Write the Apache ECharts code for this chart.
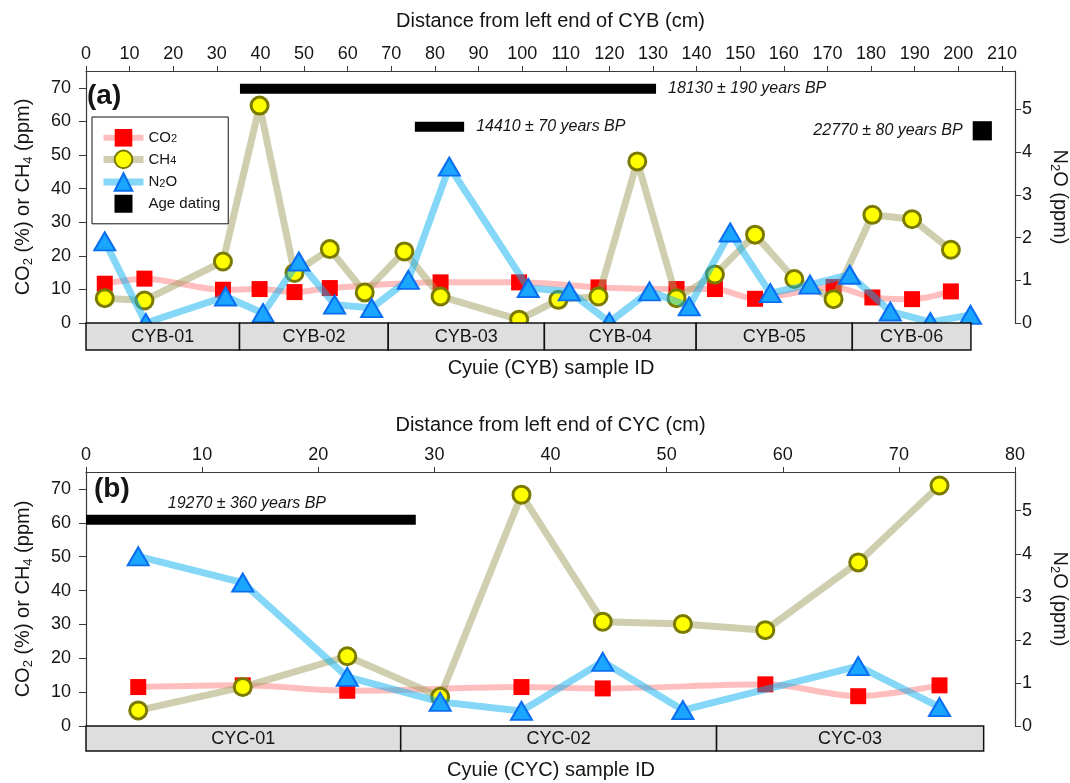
<!DOCTYPE html>
<html><head><meta charset="utf-8">
<script src="https://cdn.jsdelivr.net/npm/echarts@6/dist/echarts.min.js"></script>
<style>html,body{margin:0;padding:0;background:#fff}#c{width:1070px;height:783px}</style>
</head><body><div id="c"></div>
<script>
// ---------- Panel (a): CYB ----------
const cybDistGas = [4.3, 13.4, 31.4, 39.8, 47.8, 55.9, 63.9, 73.0, 81.3, 99.3, 108.3, 117.5, 126.4, 135.4, 144.2, 153.4, 162.4, 171.4, 180.3, 189.4, 198.3];
const cybCH4 = [7.4, 6.7, 18.3, 64.7, 14.9, 22.0, 9.1, 21.3, 7.9, 1.0, 6.9, 7.9, 48.1, 7.4, 14.4, 26.3, 13.1, 7.1, 32.2, 30.9, 21.8];
const cybDistCO2 = [4.3, 13.4, 31.4, 39.8, 47.8, 55.9, 81.3, 99.3, 117.5, 135.4, 144.2, 153.4, 171.4, 180.3, 189.4, 198.3];
const cybCO2 = [11.7, 13.2, 9.9, 10.1, 9.2, 10.4, 12.1, 12.1, 10.6, 10.1, 10.1, 7.2, 10.7, 7.6, 7.1, 9.4];
const cybDistN2O = [4.3, 13.7, 32.0, 40.6, 48.8, 57.0, 65.5, 73.9, 83.3, 101.4, 110.8, 120.0, 129.2, 138.3, 147.7, 156.9, 166.0, 175.1, 184.4, 193.6, 202.8];
const cybN2O = [1.91, 0.0, 0.62, 0.23, 1.44, 0.43, 0.35, 1.01, 3.66, 0.82, 0.74, 0.02, 0.74, 0.39, 2.12, 0.70, 0.90, 1.13, 0.27, 0.02, 0.19];
const cybSamples = ['CYB-01', 'CYB-02', 'CYB-03', 'CYB-04', 'CYB-05', 'CYB-06'];
const cybSampleBounds = [0, 35.2, 69.3, 105.1, 139.9, 175.7, 202.9];
const cybAgeStart = [35.3, 75.4, 203.3];
const cybAgeEnd = [130.7, 86.7, 207.7];
const cybAgeLevel = [69.7, 58.4, 57.2];
const cybAgeLabel = ['18130 ± 190 years BP', '14410 ± 70 years BP', '22770 ± 80 years BP'];
const cybDistTicks = [0,10,20,30,40,50,60,70,80,90,100,110,120,130,140,150,160,170,180,190,200,210];

// ---------- Panel (b): CYC ----------
const cycDistGas = [4.5, 13.5, 22.5, 30.5, 37.5, 44.5, 51.4, 58.5, 66.5, 73.5];
const cycCH4 = [4.6, 11.5, 20.6, 8.6, 68.3, 30.8, 30.1, 28.3, 48.3, 71.0];
const cycDistCO2 = [4.5, 13.5, 22.5, 37.5, 44.5, 58.5, 66.5, 73.5];
const cycCO2 = [11.5, 12.0, 10.4, 11.5, 11.1, 12.3, 8.8, 12.0];
const cycDistN2O = [4.5, 13.5, 22.5, 30.5, 37.5, 44.5, 51.4, 66.5, 73.5];
const cycN2O = [3.94, 3.33, 1.14, 0.56, 0.35, 1.49, 0.37, 1.39, 0.44];
const cycSamples = ['CYC-01', 'CYC-02', 'CYC-03'];
const cycSampleBounds = [0, 27.1, 54.3, 77.3];
const cycAgeStart = [0];
const cycAgeEnd = [28.4];
const cycAgeLevel = [60.9];
const cycAgeLabel = ['19270 ± 360 years BP'];
const cycDistTicks = [0,10,20,30,40,50,60,70,80];

const gasTicks = [0,10,20,30,40,50,60,70];
const n2oTicks = [0,1,2,3,4,5];

// ---------- styling ----------
const FONT = '"Liberation Sans", Arial, sans-serif';
const AXC = '#3a3a3a';
const TXT = '#151515';
const zip = (a, b) => a.map((v, i) => [v, b[i]]);

function topX(gridIndex, max, ticks, name, gap) {
  return {
    gridIndex, type: 'value', position: 'top', min: 0, max,
    name, nameLocation: 'middle', nameGap: gap,
    nameTextStyle: {fontSize: 20, color: TXT, fontFamily: FONT},
    axisLine: {show: true, onZero: false, lineStyle: {color: AXC, width: 1.2}},
    axisTick: {show: true, inside: false, length: 5, customValues: ticks, lineStyle: {color: AXC}},
    axisLabel: {customValues: ticks, fontSize: 18, color: TXT, fontFamily: FONT, margin: 8, hideOverlap: false},
    splitLine: {show: false}
  };
}
function hiddenX(gridIndex, max) {
  return {gridIndex, type: 'value', min: 0, max, show: false,
    axisLine: {show: false, onZero: false}, axisTick: {show: false}, axisLabel: {show: false}, splitLine: {show: false}};
}
const rich = {
  n: {fontSize: 20, color: TXT, fontFamily: FONT},
  s: {fontSize: 13, color: TXT, fontFamily: FONT, padding: [10, 0, 0, 0]}
};
function leftY(gridIndex) {
  return {
    gridIndex, type: 'value', position: 'left', min: 0, max: 75,
    name: '{n|CO}{s|2}{n| (%) or CH}{s|4}{n| (ppm)}', nameLocation: 'middle', nameGap: 51,
    nameTextStyle: {rich},
    axisLine: {show: true, onZero: false, lineStyle: {color: AXC, width: 1.2}},
    axisTick: {show: true, length: 7, customValues: gasTicks, lineStyle: {color: AXC}},
    axisLabel: {customValues: gasTicks, fontSize: 18, color: TXT, fontFamily: FONT, margin: 15},
    splitLine: {show: false}
  };
}
function rightY(gridIndex) {
  return {
    gridIndex, type: 'value', position: 'right', min: 0, max: 5.9,
    name: '{n|N}{s|2}{n|O (ppm)}', nameLocation: 'middle', nameGap: 33, nameRotate: -90,
    nameTextStyle: {rich},
    axisLine: {show: true, onZero: false, lineStyle: {color: AXC, width: 1.2}},
    axisTick: {show: true, length: 6, customValues: n2oTicks, lineStyle: {color: AXC}},
    axisLabel: {customValues: n2oTicks, fontSize: 18, color: TXT, fontFamily: FONT, margin: 7},
    splitLine: {show: false}
  };
}
function hiddenY(gridIndex) {
  return {gridIndex, type: 'value', min: 0, max: 1, show: false,
    axisLine: {show: false, onZero: false}, axisTick: {show: false}, axisLabel: {show: false}, splitLine: {show: false}};
}

function co2Series(x, y, dist, vals) {
  return {
    name: 'CO2', type: 'line', xAxisIndex: x, yAxisIndex: y, data: zip(dist, vals),
    smooth: 0.3, symbol: 'rect', symbolSize: 16, z: 2,
    itemStyle: {color: '#ff0000'},
    lineStyle: {color: 'rgba(255,110,110,0.45)', width: 6}
  };
}
function ch4Series(x, y, dist, vals) {
  return {
    name: 'CH4', type: 'line', xAxisIndex: x, yAxisIndex: y, data: zip(dist, vals),
    symbol: 'circle', symbolSize: 17, z: 3,
    itemStyle: {color: '#ffff00', borderColor: '#7a7a00', borderWidth: 3},
    lineStyle: {color: 'rgba(160,160,95,0.5)', width: 7}
  };
}
function n2oSeries(x, y, dist, vals) {
  return {
    name: 'N2O', type: 'line', xAxisIndex: x, yAxisIndex: y, data: zip(dist, vals),
    symbol: 'triangle', symbolSize: [21, 18], z: 4,
    itemStyle: {color: '#1aa6ff', borderColor: '#0a6ef0', borderWidth: 2},
    lineStyle: {color: 'rgba(10,175,240,0.5)', width: 7}
  };
}
function ageSeries(x, y, starts, ends, levels, labels, sides) {
  return {
    name: 'Age dating', type: 'custom', xAxisIndex: x, yAxisIndex: y, z: 5,
    itemStyle: {color: '#000'},
    data: starts.map((s, i) => [s, ends[i], levels[i]]),
    renderItem: (params, api) => {
      const i = params.dataIndex;
      const s = api.coord([api.value(0), api.value(2)]);
      const e = api.coord([api.value(1), api.value(2)]);
      const w = e[0] - s[0];
      const h = w < 25 ? w : 10;
      const side = sides[i];
      let tx, ty, align;
      if (side === 'right') { tx = e[0] + 12; ty = s[1]; align = 'left'; }
      else if (side === 'left') { tx = s[0] - 10; ty = s[1]; align = 'right'; }
      else { tx = (s[0] + e[0]) / 2 - 4; ty = s[1] - 16; align = 'center'; }
      return {type: 'group', children: [
        {type: 'rect', shape: {x: s[0], y: s[1] - h / 2, width: w, height: h}, style: {fill: '#000'}},
        {type: 'text', style: {text: labels[i], x: tx, y: ty, align, verticalAlign: 'middle',
          fill: TXT, font: 'italic 16px ' + FONT}}
      ]};
    }
  };
}
function sampleSeries(x, y, names, bounds) {
  return {
    type: 'custom', xAxisIndex: x, yAxisIndex: y, z: 10, silent: true,
    data: names.map((n, i) => [bounds[i], bounds[i + 1]]),
    renderItem: (params, api) => {
      const a = api.coord([api.value(0), 1]);
      const b = api.coord([api.value(1), 0]);
      return {type: 'group', children: [
        {type: 'rect', shape: {x: a[0], y: a[1], width: b[0] - a[0], height: b[1] - a[1]},
          style: {fill: '#dedede', stroke: '#111', lineWidth: 1.5}},
        {type: 'text', style: {text: names[params.dataIndex], x: (a[0] + b[0]) / 2, y: (a[1] + b[1]) / 2 + 1,
          align: 'center', verticalAlign: 'middle', fill: TXT, font: '18px ' + FONT}}
      ]};
    }
  };
}

const chart = echarts.init(document.getElementById('c'), null, {renderer: 'canvas'});
chart.setOption({
  animation: false,
  backgroundColor: '#fff',
  textStyle: {fontFamily: FONT},
  grid: [
    {left: 86, top: 71, width: 929, height: 252, outerBoundsMode: 'none', containLabel: false},
    {left: 86, top: 323, width: 929, height: 27, outerBoundsMode: 'none', containLabel: false},
    {left: 86, top: 472, width: 929, height: 254, outerBoundsMode: 'none', containLabel: false},
    {left: 86, top: 726, width: 929, height: 25, outerBoundsMode: 'none', containLabel: false}
  ],
  xAxis: [
    topX(0, 213, cybDistTicks, 'Distance from left end of CYB (cm)', 40),
    hiddenX(1, 213),
    topX(2, 80, cycDistTicks, 'Distance from left end of CYC (cm)', 37),
    hiddenX(3, 80)
  ],
  yAxis: [leftY(0), rightY(0), hiddenY(1), leftY(2), rightY(2), hiddenY(3)],
  legend: {
    left: 92, top: 117, orient: 'vertical',
    backgroundColor: '#fff', borderColor: '#111', borderWidth: 1, borderRadius: 0,
    padding: [12, 8, 11, 8], itemWidth: 40, itemHeight: 22, itemGap: 3,
    lineStyle: {width: 'inherit'},
    textStyle: {fontSize: 15, color: TXT, fontFamily: FONT,
      rich: {n: {fontSize: 15, color: TXT}, s: {fontSize: 11, color: TXT, padding: [3, 0, 0, 0]}}},
    formatter: name => name === 'Age dating' ? '{n|Age dating}' : name.replace(/^([A-Z]+)(\d)(.*)$/, '{n|$1}{s|$2}{n|$3}').replace('{n|}', ''),
    data: [
      {name: 'CO2'}, {name: 'CH4'}, {name: 'N2O'},
      {name: 'Age dating', icon: 'path://M0,9L0.01,9ZM11,0L29,0L29,18L11,18ZM40,9L39.99,9Z', itemStyle: {color: '#000'}}
    ]
  },
  graphic: [
    {type: 'text', left: 87, top: 82, style: {text: '(a)', font: 'bold 28px ' + FONT, fill: TXT}},
    {type: 'text', left: 94, top: 475, style: {text: '(b)', font: 'bold 28px ' + FONT, fill: TXT}},
    {type: 'text', x: 551, y: 368, style: {text: 'Cyuie (CYB) sample ID', font: '20px ' + FONT, fill: TXT, align: 'center', verticalAlign: 'middle'}},
    {type: 'text', x: 551, y: 770, style: {text: 'Cyuie (CYC) sample ID', font: '20px ' + FONT, fill: TXT, align: 'center', verticalAlign: 'middle'}}
  ],
  series: [
    co2Series(0, 0, cybDistCO2, cybCO2),
    ch4Series(0, 0, cybDistGas, cybCH4),
    n2oSeries(0, 1, cybDistN2O, cybN2O),
    ageSeries(0, 0, cybAgeStart, cybAgeEnd, cybAgeLevel, cybAgeLabel, ['right', 'right', 'left']),
    sampleSeries(1, 2, cybSamples, cybSampleBounds),
    co2Series(2, 3, cycDistCO2, cycCO2),
    ch4Series(2, 3, cycDistGas, cycCH4),
    n2oSeries(2, 4, cycDistN2O, cycN2O),
    ageSeries(2, 3, cycAgeStart, cycAgeEnd, cycAgeLevel, cycAgeLabel, ['top']),
    sampleSeries(3, 5, cycSamples, cycSampleBounds)
  ]
});
</script>
</body></html>
